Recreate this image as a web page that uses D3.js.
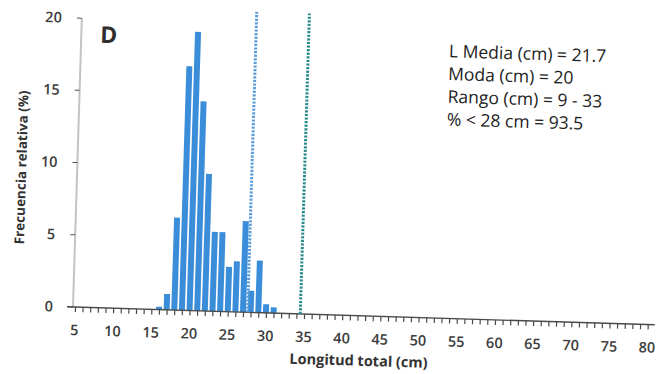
<!DOCTYPE html>
<html>
<head>
<meta charset="utf-8">
<script src="https://cdn.jsdelivr.net/npm/d3@7"></script>
<style>
  body { margin: 0; background: #fff; }
  text { font-family: "Open Sans", sans-serif; }
</style>
</head>
<body>
<div class="chart-container"></div>
<script>
var w = 659;
var h = 374;

// longitud total (cm) y frecuencia relativa (%)
var lengths = [16, 17, 18, 19, 20, 21, 22, 23, 24, 25, 26, 27, 28, 29, 30, 31];
var freqs = [0.2, 1.1, 6.4, 16.9, 19.3, 14.5, 9.5, 5.5, 5.5, 3.1, 3.5, 6.3, 1.5, 3.6, 0.6, 0.4];

var xTicks = [5, 10, 15, 20, 25, 30, 35, 40, 45, 50, 55, 60, 65, 70, 75, 80];
var yTicks = [0, 5, 10, 15, 20];

// lineas de referencia (talla)
var refLines = [27.6, 34.5];
var refColors = ["#5b9ddb", "#2b8c8c"];

var stats = ["L Media (cm) = 21.7", "Moda (cm) = 20", "Rango (cm) = 9 - 33", "% < 28 cm = 93.5"];

var x0 = 73, y0 = 307;

var xScale = d3.scaleLinear()
    .domain([5, 80])
    .range([75, 648]);

var yScale = d3.scaleLinear()
    .domain([0, 20])
    .range([y0, 18]);

var svg = d3.select(".chart-container")
    .append("svg")
    .attr("width", w)
    .attr("height", h);

// the scan is a little tilted
var g = svg.append("g")
    .attr("transform", "rotate(1.75," + x0 + "," + y0 + ")");

// y axis
g.append("line")
    .attr("x1", x0).attr("x2", x0)
    .attr("y1", yScale(0)).attr("y2", yScale(20))
    .attr("stroke", "#c4c4c4")
    .attr("stroke-width", 2);

g.selectAll(".ytick")
    .data(yTicks)
    .enter()
    .append("line")
    .attr("class", "ytick")
    .attr("x1", x0 - 5).attr("x2", x0)
    .attr("y1", function(d) { return yScale(d); })
    .attr("y2", function(d) { return yScale(d); })
    .attr("stroke", "#555")
    .attr("stroke-width", 1);

g.selectAll(".ylabel")
    .data(yTicks)
    .enter()
    .append("text")
    .attr("class", "ylabel")
    .attr("x", 53)
    .attr("y", function(d) { return yScale(d) + 5; })
    .attr("text-anchor", "end")
    .attr("font-size", 14.5)
    .attr("font-weight", 600)
    .attr("fill", "#3c3c3c")
    .text(function(d) { return d; });

// bars
g.selectAll("rect")
    .data(lengths)
    .enter()
    .append("rect")
    .attr("x", function(d) { return xScale(d) - 3; })
    .attr("y", function(d, i) { return yScale(freqs[i]); })
    .attr("width", 6)
    .attr("height", function(d, i) { return yScale(0) - yScale(freqs[i]); })
    .attr("fill", "#3a8dd8");

// x axis
var xAxis = d3.axisBottom()
    .scale(xScale)
    .tickValues(d3.range(5, 81))
    .tickSize(5)
    .tickFormat("");

g.append("g")
    .attr("class", "axis")
    .attr("transform", "translate(0," + y0 + ")")
    .call(xAxis)
    .call(function(s) {
        s.select(".domain").attr("d", "M" + (x0 - 6) + ",0H655").attr("stroke", "#4a4a4a").attr("stroke-width", 1.4);
        s.selectAll(".tick line").attr("stroke", "#4a4a4a").attr("stroke-width", 1.2);
    });

g.selectAll(".xlabel")
    .data(xTicks)
    .enter()
    .append("text")
    .attr("class", "xlabel")
    .attr("x", function(d) { return xScale(d); })
    .attr("y", y0 + 28)
    .attr("text-anchor", "middle")
    .attr("font-size", 14.5)
    .attr("font-weight", 600)
    .attr("fill", "#3c3c3c")
    .text(function(d) { return d; });

// reference lines
g.selectAll(".ref")
    .data(refLines)
    .enter()
    .append("line")
    .attr("class", "ref")
    .attr("x1", function(d) { return xScale(d); })
    .attr("x2", function(d) { return xScale(d); })
    .attr("y1", yScale(0))
    .attr("y2", yScale(20.8))
    .attr("stroke", function(d, i) { return refColors[i]; })
    .attr("stroke-width", 3)
    .attr("stroke-dasharray", "2.2,1.4");

// titles
g.append("text")
    .attr("x", 360)
    .attr("y", 357)
    .attr("text-anchor", "middle")
    .attr("font-size", 14.5)
    .attr("font-weight", 700)
    .attr("fill", "#333")
    .text("Longitud total (cm)");

g.append("text")
    .attr("transform", "translate(22,169) rotate(-90)")
    .attr("text-anchor", "middle")
    .attr("font-size", 13.5)
    .attr("font-weight", 700)
    .attr("fill", "#333")
    .text("Frecuencia relativa (%)");

g.append("text")
    .attr("x", 92)
    .attr("y", 42)
    .attr("font-size", 23)
    .attr("font-weight", 700)
    .attr("fill", "#2e2e2e")
    .text("D");

g.selectAll(".stat")
    .data(stats)
    .enter()
    .append("text")
    .attr("class", "stat")
    .attr("x", 441)
    .attr("y", function(d, i) { return 46 + i * 22.7; })
    .attr("font-size", 17.5)
    .attr("font-weight", 500)
    .attr("fill", "#222")
    .text(function(d) { return d; });
</script>
</body>
</html>
